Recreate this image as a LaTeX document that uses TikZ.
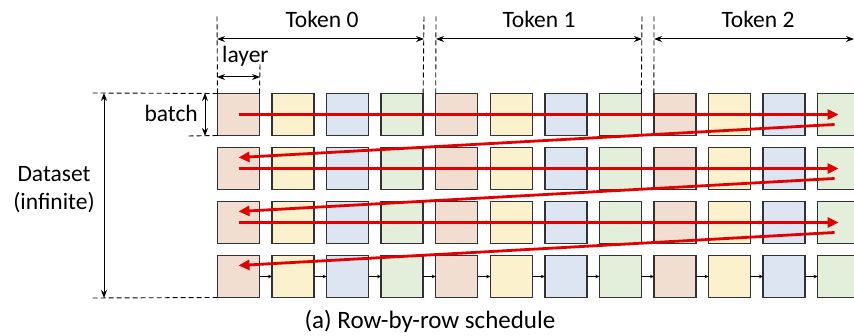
\documentclass[tikz,border=0pt]{standalone}
\usepackage{fontspec}
\setmainfont{Carlito}
\usetikzlibrary{arrows.meta}
\definecolor{cpeach}{RGB}{242,222,208}
\definecolor{cyellow}{RGB}{252,241,205}
\definecolor{cblue}{RGB}{221,228,242}
\definecolor{cgreen}{RGB}{227,238,219}
\definecolor{cborder}{RGB}{50,50,50}
\definecolor{cred}{RGB}{226,0,0}
\begin{document}
\begin{tikzpicture}[x=1pt,y=-1pt,
  cell/.style={draw=cborder,line width=1.4pt,minimum width=42pt,minimum height=42pt,inner sep=0pt,outer sep=0pt},
  smallarr/.style={-{Stealth[length=4pt,width=3.5pt]},line width=0.6pt,black},
  redarr/.style={-{Triangle[length=11pt,width=10pt]},line width=2.8pt,cred},
  dimarr/.style={{Stealth[length=8pt,width=6pt]}-{Stealth[length=8pt,width=6pt]},line width=1pt,black},
  guide/.style={dash pattern=on 5pt off 3pt,line width=0.9pt,black},
  lbl/.style={font=\fontsize{23.5}{28}\selectfont,inner sep=0pt,anchor=base},
  caplbl/.style={font=\fontsize{25}{30}\selectfont,inner sep=0pt,anchor=base}]
\useasboundingbox (0,0) rectangle (854,336);
\foreach \r in {1,...,4}{
  \foreach \c in {1,...,12}{
    \pgfmathtruncatemacro\k{mod(\c-1,4)}
    \ifcase\k \def\fc{cpeach}\or \def\fc{cyellow}\or \def\fc{cblue}\or \def\fc{cgreen}\fi
    \node[cell,fill=\fc] (b\r-\c) at ({238.5+54.55*(\c-1)},{114.5+54*(\r-1)}) {};
  }
}
\foreach \r in {1,...,4}{
  \foreach \c [evaluate=\c as \n using int(\c+1)] in {1,...,11}{
    \draw[smallarr] (b\r-\c.east) -- (b\r-\n.west);
  }
}
% red schedule
\foreach \r [evaluate=\r as \n using int(\r+1)] in {1,2,3}{
  \draw[redarr] (b\r-1.center) -- (b\r-12.center);
  \draw[redarr] ([xshift=-4pt,yshift=-10pt]b\r-12.center) -- ([yshift=11pt]b\n-1.center);
}
% guides
\coordinate (g0) at (217,15);
\coordinate (gl) at (260,64);
\coordinate (g1) at (424,15);
\coordinate (g2) at (436,15);
\coordinate (g3) at (642,15);
\coordinate (g4) at (654,15);
\coordinate (dl) at (92,93);
\coordinate (bl) at (188,136);
\coordinate (dbl) at (92,298);
\coordinate (tend) at (854,39);
\draw[guide] (b1-1.north west) -- (g0);
\draw[guide] (b1-1.north east) -- (gl);
\draw[guide] (b1-4.north east) -- (g1);
\draw[guide] (b1-5.north west) -- (g2);
\draw[guide] (b1-8.north east) -- (g3);
\draw[guide] (b1-9.north west) -- (g4);
\draw[guide] (b1-1.north west) -- (dl);
\draw[guide] (b1-1.south west) -- (bl);
\draw[guide] (b4-1.south west) -- (dbl);
% dimension arrows
\draw[dimarr] (g0 |- tend) -- (g1 |- tend);
\draw[dimarr] (g2 |- tend) -- (g3 |- tend);
\draw[dimarr] (g4 |- tend) -- (tend);
\draw[dimarr] (217,77) -- (260,77);
\draw[dimarr] (205,93) -- (205,136);
\draw[dimarr] (104,93) -- (104,298);
% labels
\node[lbl] (t0) at (322,27.5) {Token 0};
\node[lbl] (t1) at (539,28) {Token 1};
\node[lbl] (t2) at (758,28) {Token 2};
\node[lbl,anchor=base west] (ly) at (222,63) {layer};
\node[lbl,anchor=base east] (bt) at (198,122) {batch};
\node[lbl] (ds) at (54,182) {Dataset};
\node[lbl] (inf) at (54,210) {(infinite)};
\node[caplbl] (cap) at (430,328.5) {(a) Row-by-row schedule};
\end{tikzpicture}
\end{document}
